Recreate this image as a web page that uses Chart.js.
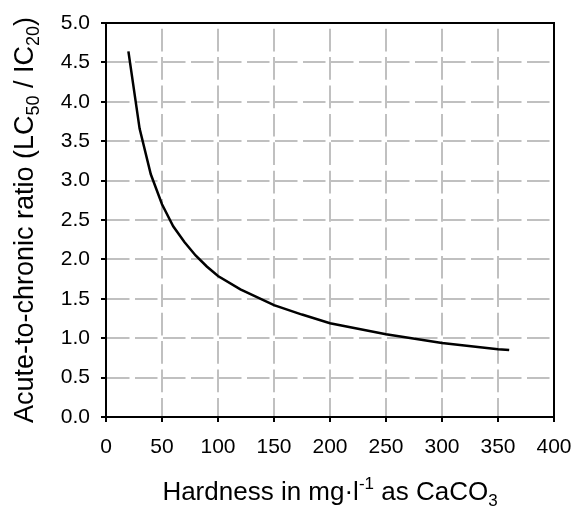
<!DOCTYPE html>
<html>
<head>
<meta charset="utf-8">
<script src="https://cdn.jsdelivr.net/npm/chart.js@4/dist/chart.umd.min.js"></script>
<style>
  html, body { margin: 0; padding: 0; background: #fff; }
  #wrap { width: 574px; height: 506px; }
</style>
</head>
<body>
<div id="wrap"><canvas id="ratioChart" width="574" height="506"></canvas></div>
<script>
// Data
const hardness = [20, 30, 40, 50, 60, 70, 80, 90, 100, 120, 150, 175, 200, 250, 300, 350, 360];
const ratio = [4.64, 3.66, 3.08, 2.70, 2.42, 2.22, 2.05, 1.91, 1.79, 1.62, 1.42, 1.30, 1.19, 1.05, 0.94, 0.86, 0.85];

const xTitle = [['Hardness in mg\u00b7l', 'n'], ['-1', 'sup'], [' as CaCO', 'n'], ['3', 'sub']];
const yTitle = [['Acute-to-chronic ratio (LC', 'n'], ['50', 'sub'], [' / IC', 'n'], ['20', 'sub'], [')', 'n']];

const FONT = "'Liberation Sans', Arial, sans-serif";

// draw text with sub/superscripts, centred on (0,0) of current transform
function drawRich(ctx, parts, size) {
    const small = Math.round(size * 0.65);
    let total = 0;
    parts.forEach(p => {
        ctx.font = (p[1] === 'n' ? size : small) + 'px ' + FONT;
        total += ctx.measureText(p[0]).width;
    });
    let x = -total / 2;
    parts.forEach(p => {
        ctx.font = (p[1] === 'n' ? size : small) + 'px ' + FONT;
        let dy = 0;
        if (p[1] === 'sub') dy = size * 0.22;
        if (p[1] === 'sup') dy = -size * 0.42;
        ctx.fillText(p[0], x, dy);
        x += ctx.measureText(p[0]).width;
    });
}

const titlesPlugin = {
    id: 'titles',
    afterDraw(chart) {
        const ctx = chart.ctx;
        const area = chart.chartArea;
        ctx.save();
        ctx.fillStyle = '#000';
        ctx.textAlign = 'left';
        ctx.textBaseline = 'alphabetic';

        ctx.save();
        ctx.translate((area.left + area.right) / 2, 500);
        drawRich(ctx, xTitle, 26);
        ctx.restore();

        ctx.save();
        ctx.translate(33, (area.top + area.bottom) / 2);
        ctx.rotate(-Math.PI / 2);
        drawRich(ctx, yTitle, 27);
        ctx.restore();

        // frame round the plot area
        ctx.strokeStyle = '#000';
        ctx.lineWidth = 2;
        ctx.strokeRect(area.left, area.top, area.right - area.left, area.bottom - area.top);
        ctx.restore();
    }
};

const ctx = document.getElementById('ratioChart').getContext('2d');
new Chart(ctx, {
    type: 'line',
    data: {
        datasets: [{
            data: hardness.map((h, i) => ({ x: h, y: ratio[i] })),
            borderColor: '#000',
            borderWidth: 2.5,
            pointRadius: 0,
            tension: 0,
            fill: false
        }]
    },
    options: {
        responsive: false,
        animation: false,
        layout: { padding: { left: 0, top: 23, right: 20, bottom: 0 } },
        plugins: { legend: { display: false }, tooltip: { enabled: false } },
        scales: {
            x: {
                type: 'linear',
                min: 0,
                max: 400,
                afterFit(scale) {
                    scale.height = 89;
                    scale.paddingLeft = 0;
                    scale.paddingRight = 0;
                },
                ticks: { stepSize: 50, color: '#000', padding: 13, font: { size: 21, family: FONT } },
                grid: { color: '#c0c0c0', lineWidth: 2, tickLength: 5, tickColor: '#000', tickWidth: 2 },
                border: { color: '#000', width: 2, dash: [22.7, 5.7], dashOffset: 22.7 }
            },
            y: {
                min: 0,
                max: 5,
                afterFit(scale) {
                    scale.width = 106;
                    scale.paddingTop = 0;
                    scale.paddingBottom = 0;
                },
                ticks: {
                    stepSize: 0.5, color: '#000', padding: 11,
                    font: { size: 21, family: FONT },
                    callback: v => v.toFixed(1)
                },
                grid: { color: '#c0c0c0', lineWidth: 2, tickLength: 5, tickColor: '#000', tickWidth: 2 },
                border: { color: '#000', width: 2, dash: [22.5, 5.5] }
            }
        }
    },
    plugins: [titlesPlugin]
});
</script>
</body>
</html>
